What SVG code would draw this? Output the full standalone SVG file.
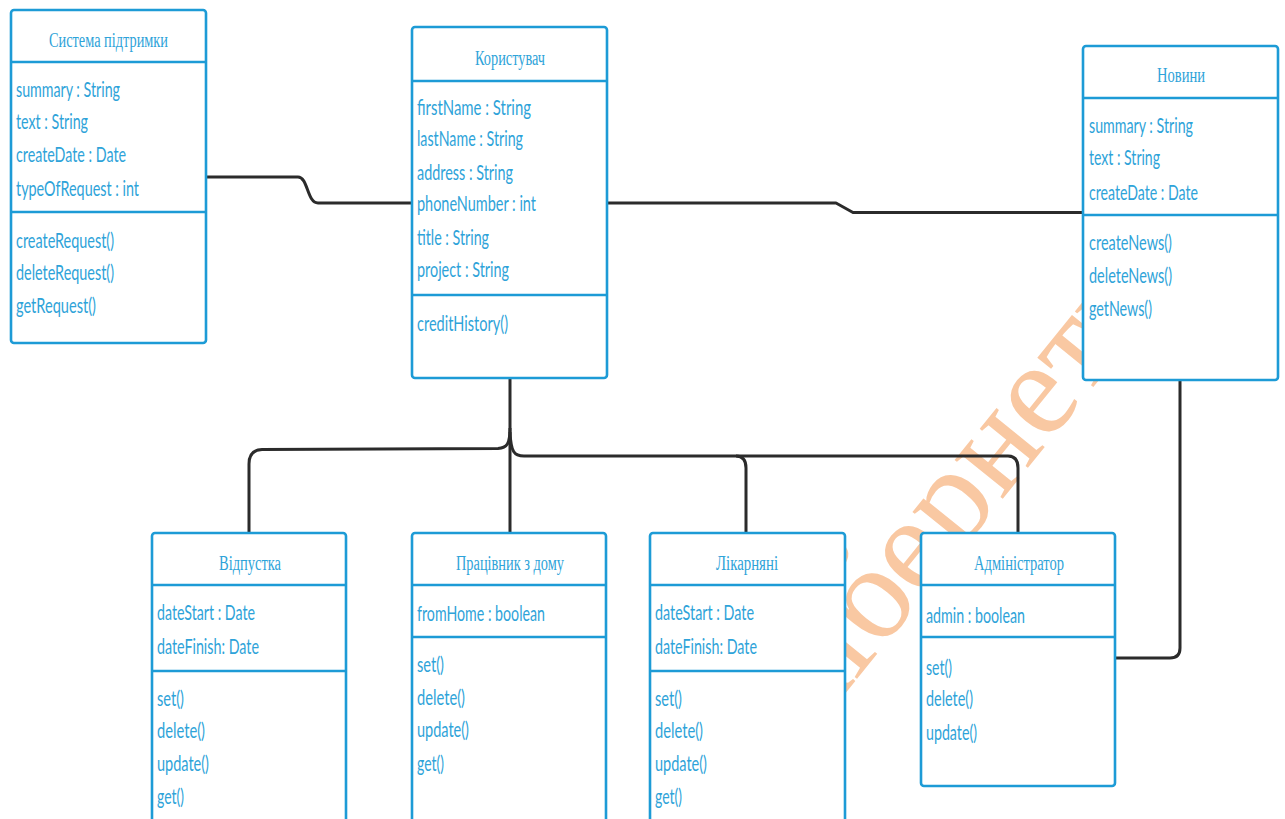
<svg xmlns="http://www.w3.org/2000/svg" width="1285" height="819" viewBox="0 0 1285 819">
<style>
.box{fill:#fff;stroke:#1d9bd6;stroke-width:2.6}
.sep{stroke:#1d9bd6;stroke-width:2.6}
.ttl{font-family:"Liberation Serif","Times New Roman",serif;font-size:20px;fill:#2ea3d9;text-anchor:middle}
.t{font-family:Lato,"Liberation Sans",sans-serif;font-size:21px;fill:#2ea3d9}
.c{fill:none;stroke:#2b2b2b;stroke-width:3;stroke-linejoin:round}
.wm{font-family:"Liberation Serif","Times New Roman",serif;font-size:135px;fill:#f9c8a2}
</style>
<rect width="1285" height="819" fill="#fff"/>
<text class="wm" transform="translate(814,732) rotate(-51)">кібернетики</text>

<g id="connectors">
<path class="c" d="M206,177 H298 C308,177 307,203 318,203 H412" stroke-width="3.5"/>
<path class="c" d="M607,203 H836 L853,212.5 H1083" stroke-width="3.5"/>
<path class="c" d="M1180,380 V648 Q1180,658 1170,658 H1115"/>
<path class="c" d="M510,378 V533" stroke-width="2"/>
<path class="c" d="M510,428 C510,444 507,448 498,448.5 L262,449.5 Q249,450 249,464 V533" stroke-width="3.5"/>
<path class="c" d="M510,432 C511,452 514,456 524,456 H736 Q746,456 746,468 V533"/>
<path class="c" d="M736,456 H1008 Q1018,456 1018,468 V533" stroke="#143a58"/>
</g>

<g id="sistema">
<rect class="box" x="11" y="10" width="195" height="333" rx="3"/>
<line class="sep" x1="11" y1="62" x2="206" y2="62"/>
<line class="sep" x1="11" y1="212" x2="206" y2="212"/>
<text class="ttl" x="108.5" y="47" textLength="119" lengthAdjust="spacingAndGlyphs">Система підтримки</text>
<text class="t" x="16" y="97" textLength="104" lengthAdjust="spacingAndGlyphs">summary : String</text>
<text class="t" x="16" y="129" textLength="72" lengthAdjust="spacingAndGlyphs">text : String</text>
<text class="t" x="16" y="162" textLength="110" lengthAdjust="spacingAndGlyphs">createDate : Date</text>
<text class="t" x="16" y="196" textLength="123" lengthAdjust="spacingAndGlyphs">typeOfRequest : int</text>
<text class="t" x="16" y="248" textLength="98" lengthAdjust="spacingAndGlyphs">createRequest()</text>
<text class="t" x="16" y="280" textLength="98" lengthAdjust="spacingAndGlyphs">deleteRequest()</text>
<text class="t" x="16" y="313" textLength="80" lengthAdjust="spacingAndGlyphs">getRequest()</text>
</g>

<g id="korystuvach">
<rect class="box" x="412" y="27" width="195" height="351" rx="3"/>
<line class="sep" x1="412" y1="81" x2="607" y2="81"/>
<line class="sep" x1="412" y1="295" x2="607" y2="295"/>
<text class="ttl" x="510" y="65" textLength="70" lengthAdjust="spacingAndGlyphs">Користувач</text>
<text class="t" x="417" y="115" textLength="114" lengthAdjust="spacingAndGlyphs">firstName  : String</text>
<text class="t" x="417" y="146" textLength="106" lengthAdjust="spacingAndGlyphs">lastName : String</text>
<text class="t" x="417" y="180" textLength="96" lengthAdjust="spacingAndGlyphs">address : String</text>
<text class="t" x="417" y="211" textLength="119" lengthAdjust="spacingAndGlyphs">phoneNumber : int</text>
<text class="t" x="417" y="245" textLength="72" lengthAdjust="spacingAndGlyphs">title : String</text>
<text class="t" x="417" y="277" textLength="92" lengthAdjust="spacingAndGlyphs">project : String</text>
<text class="t" x="417" y="331" textLength="91" lengthAdjust="spacingAndGlyphs">creditHistory()</text>
</g>

<g id="novyny">
<rect class="box" x="1083" y="46" width="195" height="334" rx="3"/>
<line class="sep" x1="1083" y1="98" x2="1278" y2="98"/>
<line class="sep" x1="1083" y1="215" x2="1278" y2="215"/>
<text class="ttl" x="1181" y="82" textLength="48" lengthAdjust="spacingAndGlyphs">Новини</text>
<text class="t" x="1089" y="133" textLength="104" lengthAdjust="spacingAndGlyphs">summary : String</text>
<text class="t" x="1089" y="165" textLength="71" lengthAdjust="spacingAndGlyphs">text : String</text>
<text class="t" x="1089" y="200" textLength="109" lengthAdjust="spacingAndGlyphs">createDate : Date</text>
<text class="t" x="1089" y="250" textLength="83" lengthAdjust="spacingAndGlyphs">createNews()</text>
<text class="t" x="1089" y="283" textLength="83" lengthAdjust="spacingAndGlyphs">deleteNews()</text>
<text class="t" x="1089" y="316" textLength="63" lengthAdjust="spacingAndGlyphs">getNews()</text>
</g>

<g id="vidpustka">
<rect class="box" x="152" y="533" width="194" height="300" rx="3"/>
<line class="sep" x1="152" y1="585" x2="346" y2="585"/>
<line class="sep" x1="152" y1="671" x2="346" y2="671"/>
<text class="ttl" x="250" y="570" textLength="62" lengthAdjust="spacingAndGlyphs">Відпустка</text>
<text class="t" x="157" y="620" textLength="98" lengthAdjust="spacingAndGlyphs">dateStart : Date</text>
<text class="t" x="157" y="654" textLength="102" lengthAdjust="spacingAndGlyphs">dateFinish: Date</text>
<text class="t" x="157" y="706" textLength="27" lengthAdjust="spacingAndGlyphs">set()</text>
<text class="t" x="157" y="738" textLength="48" lengthAdjust="spacingAndGlyphs">delete()</text>
<text class="t" x="157" y="771" textLength="52" lengthAdjust="spacingAndGlyphs">update()</text>
<text class="t" x="157" y="804" textLength="27" lengthAdjust="spacingAndGlyphs">get()</text>
</g>

<g id="pratsivnyk">
<rect class="box" x="412" y="533" width="194" height="300" rx="3"/>
<line class="sep" x1="412" y1="585" x2="606" y2="585"/>
<line class="sep" x1="412" y1="637" x2="606" y2="637"/>
<text class="ttl" x="510" y="570" textLength="108" lengthAdjust="spacingAndGlyphs">Працівник з дому</text>
<text class="t" x="417" y="621" textLength="128" lengthAdjust="spacingAndGlyphs">fromHome : boolean</text>
<text class="t" x="417" y="672" textLength="27" lengthAdjust="spacingAndGlyphs">set()</text>
<text class="t" x="417" y="705" textLength="48" lengthAdjust="spacingAndGlyphs">delete()</text>
<text class="t" x="417" y="737" textLength="52" lengthAdjust="spacingAndGlyphs">update()</text>
<text class="t" x="417" y="771" textLength="27" lengthAdjust="spacingAndGlyphs">get()</text>
</g>

<g id="likarniani">
<rect class="box" x="650" y="533" width="195" height="300" rx="3"/>
<line class="sep" x1="650" y1="585" x2="845" y2="585"/>
<line class="sep" x1="650" y1="671" x2="845" y2="671"/>
<text class="ttl" x="747" y="570" textLength="62" lengthAdjust="spacingAndGlyphs">Лікарняні</text>
<text class="t" x="655" y="620" textLength="99" lengthAdjust="spacingAndGlyphs">dateStart : Date</text>
<text class="t" x="655" y="654" textLength="102" lengthAdjust="spacingAndGlyphs">dateFinish: Date</text>
<text class="t" x="655" y="706" textLength="27" lengthAdjust="spacingAndGlyphs">set()</text>
<text class="t" x="655" y="738" textLength="48" lengthAdjust="spacingAndGlyphs">delete()</text>
<text class="t" x="655" y="771" textLength="52" lengthAdjust="spacingAndGlyphs">update()</text>
<text class="t" x="655" y="804" textLength="27" lengthAdjust="spacingAndGlyphs">get()</text>
</g>

<g id="administrator">
<rect class="box" x="921" y="533" width="194" height="253" rx="3"/>
<line class="sep" x1="921" y1="585" x2="1115" y2="585"/>
<line class="sep" x1="921" y1="637" x2="1115" y2="637"/>
<text class="ttl" x="1019" y="570" textLength="90" lengthAdjust="spacingAndGlyphs">Адміністратор</text>
<text class="t" x="926" y="623" textLength="99" lengthAdjust="spacingAndGlyphs">admin : boolean</text>
<text class="t" x="926" y="675" textLength="26" lengthAdjust="spacingAndGlyphs">set()</text>
<text class="t" x="926" y="706" textLength="47" lengthAdjust="spacingAndGlyphs">delete()</text>
<text class="t" x="926" y="740" textLength="51" lengthAdjust="spacingAndGlyphs">update()</text>
</g>
</svg>
